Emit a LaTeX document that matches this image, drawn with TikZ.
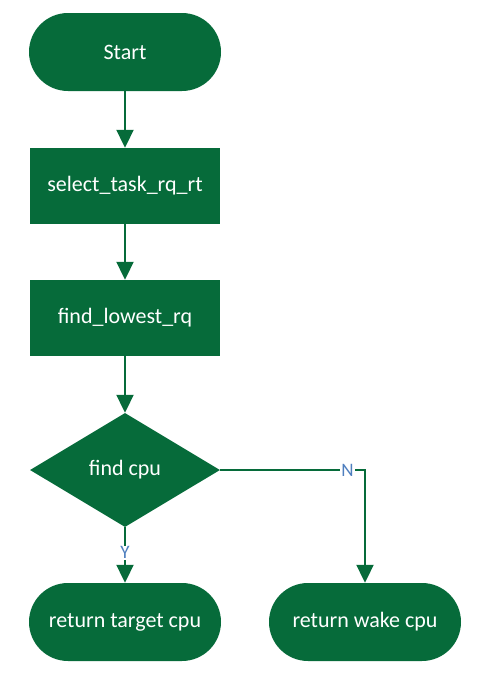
\documentclass[tikz,border=0pt]{standalone}
\usepackage{fontspec}
\setmainfont{Carlito}
\usetikzlibrary{arrows.meta, shapes.geometric, positioning}

\definecolor{flowgreen}{HTML}{066B3A}
\definecolor{labelblue}{HTML}{4F7FBF}

\tikzset{
	terminal/.style={rectangle, rounded corners=39pt, fill=flowgreen, text=white,
		minimum width=192pt, minimum height=78pt, font=\fontsize{22}{26}\selectfont},
	process/.style={rectangle, fill=flowgreen, text=white,
		minimum width=190pt, minimum height=76pt, font=\fontsize{22}{26}\selectfont},
	decision/.style={diamond, fill=flowgreen, text=white, inner sep=0pt, aspect=1.67,
		minimum width=190pt, minimum height=114pt, font=\fontsize{22}{26}\selectfont},
	flow/.style={draw=flowgreen, line width=2pt, -{Triangle[length=18pt, width=17pt]}},
	answer/.style={text=labelblue, fill=white, inner sep=1pt, font=\fontsize{19}{22}\selectfont}
}

\begin{document}
\begin{tikzpicture}[x=1pt, y=-1pt]
	\useasboundingbox (0,0) rectangle (479,680);

	% Blocks
	\node[terminal] (start) at (125,52) {Start};
	\node[process] (select) at (125,186) {select\_task\_rq\_rt};
	\node[process] (lowest) at (125,318) {find\_lowest\_rq};
	\node[decision] (cpu) at (125,470) {find cpu};
	\node[terminal] (target) at (125,622) {return target cpu};
	\node[terminal] (wake) at (365,622) {return wake cpu};

	% Connectors
	\draw[flow] (start) -- (select);
	\draw[flow] (select) -- (lowest);
	\draw[flow] (lowest) -- (cpu);
	\draw[flow] (cpu.south) -- node[answer, pos=0.46] {Y} (target.north);
	\draw[flow] (cpu.east) -| node[answer, pos=0.44] {N} (wake.north);
\end{tikzpicture}
\end{document}
